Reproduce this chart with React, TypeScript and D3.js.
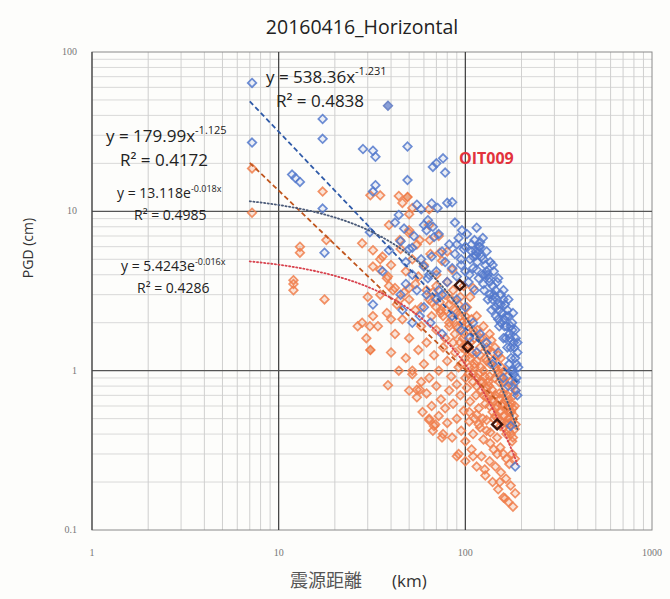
import React from "react";
import * as d3 from "d3";

const titleText = "20160416_Horizontal";
const xTickValues = [1, 10, 100, 1000];
const xTickLabels = ["1", "10", "100", "1000"];
const yTickValues = [0.1, 1, 10, 100];
const yTickLabels = ["0.1", "1", "10", "100"];

// [hypocentral distance km, PGD cm]
const bluePoints: [number, number][] = [
  [7.2, 64], [7.2, 27], [17.2, 38], [17.2, 28.5], [28.3, 24.6], [32, 24], [33, 22], [11.8, 17], [13, 15.3], [12.3, 16.2],
  [49, 25.5], [67, 19], [76, 21.5], [78, 17.5], [70, 20], [33, 14.6], [32, 13.3], [17.2, 10.4], [17.6, 5.5], [30.8, 7.4],
  [39, 5.7], [42, 8.5], [32, 2.6], [52, 2.0], [57, 2.2], [85, 11.4], [66, 11.2], [71, 10.5], [63, 8.8], [67, 8.0],
  [115, 7.9], [124, 6.8], [120, 6.0], [52, 5.9], [80, 11.3], [68, 6.9], [49, 15.7], [55, 11], [58, 10.3], [60, 8.2],
  [62, 7.6], [50, 5.8], [88, 8.5], [112, 6.6], [118, 6.0], [114, 5.3], [45, 6.5], [48, 4.8], [36, 4.2], [58, 5.0],
  [64, 4.0], [46, 2.4], [62, 3.0], [75, 3.0], [44, 9.5], [53, 7.0], [47, 7.8], [72, 7.2], [90, 6.2], [96, 7.6],
  [60, 4.5], [63, 3.8], [66, 5.2], [70, 4.2], [72, 3.2], [75, 5.6], [78, 4.8], [80, 3.6], [82, 6.2], [85, 4.4],
  [88, 5.4], [90, 3.9], [92, 6.8], [95, 4.6], [98, 5.8], [100, 4.2], [102, 7.2], [104, 3.6], [106, 5.0], [108, 6.2],
  [110, 4.4], [112, 3.2], [114, 5.6], [116, 4.8], [118, 3.8], [120, 6.4], [122, 5.2], [124, 4.0], [126, 3.2], [128, 4.6],
  [130, 5.6], [132, 2.8], [134, 3.8], [136, 4.8], [138, 2.4], [140, 3.4], [142, 4.2], [144, 2.9], [146, 2.2], [148, 3.6],
  [150, 2.6], [152, 1.9], [155, 3.0], [158, 2.3], [160, 1.6], [163, 2.6], [166, 1.9], [168, 1.4], [170, 2.2], [173, 1.6],
  [176, 1.2], [178, 1.8], [180, 1.0], [183, 1.4], [185, 0.85], [188, 1.1], [190, 0.7], [185, 0.25], [175, 0.45], [85, 2.2],
  [90, 2.8], [95, 1.8], [100, 2.5], [105, 1.6], [110, 2.0], [115, 1.3], [120, 1.7], [130, 1.5], [140, 1.1], [150, 1.3],
  [160, 0.9], [170, 0.8], [60, 2.5], [65, 2.0], [70, 2.8], [75, 1.7], [48, 3.5], [52, 4.0], [45, 3.0], [55, 3.2],
  [105, 4.0], [110, 5.2], [125, 3.5], [135, 3.0], [145, 2.5], [155, 2.0], [165, 1.6], [175, 1.4], [185, 1.2], [95, 5.0],
  [100, 6.0], [115, 4.3], [128, 4.0], [140, 2.8], [150, 2.1], [162, 1.9], [172, 1.1], [182, 0.95], [160, 2.8], [168, 2.4],
  [178, 2.0], [186, 1.6], [190, 1.3],
  [130, 4.2], [135, 3.6], [140, 4.6], [145, 3.2], [150, 3.8], [155, 2.6], [160, 3.2], [165, 2.2], [170, 2.8], [175, 1.9],
  [180, 2.3], [185, 1.8], [190, 1.5], [188, 0.9], [192, 1.05], [125, 5.0], [118, 5.6], [108, 5.6], [132, 4.0], [142, 3.0],
  [152, 2.4], [162, 2.1], [172, 1.7], [182, 1.5], [176, 1.0], [186, 0.75],
];
const blueFilled: [number, number][] = [[38.5, 46]];

const orangePoints: [number, number][] = [
  [7.2, 18.6], [7.2, 9.8], [17.2, 13.3], [31, 12.6], [35, 12.6], [44, 12.5], [46, 11.3], [52, 10.5], [18, 6.6], [13, 6.0],
  [13, 5.5], [12, 3.7], [12, 3.5], [12, 3.2], [17.6, 2.8], [26.5, 1.9], [28, 2.0], [32, 2.2], [40, 2.1], [32, 5.7],
  [32, 4.5], [35, 4.3], [38.5, 3.9], [30, 2.9], [44.6, 2.8], [50, 3.3], [41, 3.2], [30.8, 1.9], [29.5, 1.6], [38.5, 0.81],
  [50, 7.6], [39, 8.2], [44.6, 6.6], [57, 6.6], [64, 8.2], [28, 6.3], [35, 5.0], [50, 9.6], [64, 10.3], [72, 7.0],
  [80, 5.6], [50, 7.3], [64.5, 6.6], [73, 5.5],
  [36, 5.2], [40, 4.6], [45, 5.8], [48, 4.2], [52, 5.0], [56, 3.9], [60, 4.6], [65, 5.4], [70, 4.0], [75, 4.9],
  [80, 3.6], [85, 4.3], [38, 3.8], [42, 3.3], [55, 6.2],
  [35, 3.0], [39, 3.4], [43, 2.6], [47, 3.1], [50, 2.8], [54, 3.5], [58, 2.5], [62, 3.2], [66, 2.7], [70, 3.4],
  [74, 2.4], [78, 3.0], [82, 2.6], [86, 3.2], [90, 2.3], [94, 2.9], [98, 3.4], [102, 2.5], [106, 2.9], [110, 3.3],
  [34, 1.9], [38, 2.3], [42, 1.7], [46, 2.1], [50, 1.6], [54, 2.4], [58, 1.9], [62, 1.5], [66, 2.2], [70, 1.8],
  [74, 2.3], [78, 1.6], [82, 2.0], [86, 1.5], [90, 1.9], [94, 2.2], [98, 1.7], [102, 2.0], [106, 1.5], [110, 1.8],
  [115, 2.2], [120, 1.6], [125, 1.9], [130, 1.4], [135, 1.7],
  [40, 1.3], [44, 1.0], [48, 1.2], [52, 0.95], [56, 1.35], [60, 1.1], [64, 0.9], [68, 1.25], [72, 1.0], [76, 1.4],
  [80, 1.15], [84, 0.92], [88, 1.3], [92, 1.05], [96, 1.4], [100, 1.2], [104, 0.95], [108, 1.3], [112, 1.1], [116, 0.9],
  [120, 1.25], [125, 1.0], [130, 1.15], [135, 0.92], [140, 1.3], [145, 1.05], [150, 0.95], [155, 1.2], [160, 0.85],
  [50, 0.75], [55, 0.68], [58, 0.85], [62, 0.72], [66, 0.6], [70, 0.8], [74, 0.66], [78, 0.58], [82, 0.75], [86, 0.62],
  [90, 0.82], [94, 0.7], [98, 0.56], [102, 0.78], [106, 0.64], [110, 0.85], [114, 0.7], [118, 0.58], [122, 0.75], [128, 0.62],
  [134, 0.8], [140, 0.66], [146, 0.58], [152, 0.72], [158, 0.6], [164, 0.78], [170, 0.65], [176, 0.55], [182, 0.7],
  [64, 0.5], [68, 0.45], [72, 0.52], [76, 0.4], [80, 0.47], [85, 0.38], [90, 0.5], [95, 0.42], [100, 0.36], [105, 0.48],
  [110, 0.4], [115, 0.53], [120, 0.44], [125, 0.37], [130, 0.49], [136, 0.41], [142, 0.5], [148, 0.38], [154, 0.45], [160, 0.52],
  [166, 0.4], [172, 0.47], [178, 0.36], [184, 0.43],
  [92, 0.3], [100, 0.27], [108, 0.32], [115, 0.25], [122, 0.29], [128, 0.22], [135, 0.27], [140, 0.2], [145, 0.25], [150, 0.18],
  [155, 0.23], [160, 0.16], [165, 0.21], [170, 0.15], [175, 0.19], [180, 0.14], [185, 0.17], [163, 0.158], [153, 0.2], [127, 0.24],
  [110, 0.29], [90, 0.29], [75, 0.38], [69, 0.46], [59, 0.55], [57, 0.76], [52, 1.0], [55, 0.76], [64, 0.49], [67, 0.42],
  [64, 2.8], [70, 2.5], [76, 2.2], [82, 1.9], [88, 1.7], [94, 1.5], [100, 1.35], [106, 1.2], [112, 1.05], [118, 0.95],
  [124, 0.85], [130, 0.78], [136, 0.7], [142, 0.64], [148, 0.6], [155, 0.56], [162, 0.52], [170, 0.5], [178, 0.48], [186, 0.46],
  [67, 3.1], [73, 2.7], [79, 2.4], [85, 2.1], [91, 1.85], [97, 1.6], [103, 1.45], [109, 1.3], [115, 1.15], [121, 1.05],
  [127, 0.92], [133, 0.85], [139, 0.76], [145, 0.7], [152, 0.66], [159, 0.62], [166, 0.58], [174, 0.55], [182, 0.52],
  [84, 2.8], [88, 2.4], [92, 2.6], [96, 2.0], [100, 2.2], [104, 1.8], [108, 2.1], [112, 1.6], [116, 1.8], [120, 1.4],
  [124, 1.6], [128, 1.2], [132, 1.35], [136, 1.1], [140, 1.15], [144, 0.9], [148, 1.0], [152, 0.85], [156, 0.9], [160, 0.72],
  [164, 0.65], [168, 0.7], [172, 0.6], [176, 0.62], [180, 0.58], [184, 0.6],
  [95, 1.1], [100, 0.9], [105, 1.05], [110, 0.95], [115, 0.8], [120, 0.85], [125, 0.7], [130, 0.68], [135, 0.6], [140, 0.55],
  [145, 0.52], [150, 0.5], [155, 0.48], [160, 0.44], [165, 0.47], [170, 0.42], [175, 0.4], [180, 0.38],
  [105, 0.55], [112, 0.5], [118, 0.46], [124, 0.5], [130, 0.42], [136, 0.35], [142, 0.32], [148, 0.3], [154, 0.33], [160, 0.3],
  [166, 0.28], [172, 0.26], [178, 0.3], [184, 0.28],
  [138, 1.55], [144, 1.4], [150, 1.25], [156, 1.05], [162, 1.0], [168, 0.92], [174, 0.85], [180, 0.8], [186, 0.75],
];
const orangeFilled: [number, number][] = [[49, 12.3], [31, 1.35]];

// OIT009 station
const stationPoints: [number, number][] = [[93.5, 3.44], [103, 1.41], [148, 0.46]];

// trend lines: y = a·x^b and y = a·e^(k·x)
const powerCoef = [538.36, 179.99];
const powerExp = [-1.231, -1.125];
const powerR2 = ["0.4838", "0.4172"];
const expCoef = [13.118, 5.4243];
const expRate = [-0.018, -0.016];
const expR2 = ["0.4985", "0.4286"];

const BLUE = "#5479cc";
const ORANGE = "#f07f4c";

const left = 92, right = 652, top = 52, bottom = 530;

export default function App() {
  const x = d3.scaleLog().domain([1, 1000]).range([left, right]);
  const y = d3.scaleLog().domain([0.1, 100]).range([bottom, top]);

  const minorX: number[] = [];
  [1, 10, 100].forEach((dec) => d3.range(2, 10).forEach((m) => minorX.push(dec * m)));
  const minorY: number[] = [];
  [0.1, 1, 10].forEach((dec) => d3.range(2, 10).forEach((m) => minorY.push(dec * m)));

  const r = 4.3;
  const diamond = (cx: number, cy: number, s = r) =>
    `M${cx},${cy - s}L${cx + s},${cy}L${cx},${cy + s}L${cx - s},${cy}Z`;

  const xs = d3.range(0, 81).map((i) => 7 * Math.pow(190 / 7, i / 80));
  const line = d3
    .line<[number, number]>()
    .x((d) => x(d[0]))
    .y((d) => y(d[1]));
  const powerPath = (i: number) =>
    line(xs.map((v) => [v, powerCoef[i] * Math.pow(v, powerExp[i])] as [number, number])) || "";
  const expPath = (i: number) =>
    line(xs.map((v) => [v, expCoef[i] * Math.exp(expRate[i] * v)] as [number, number])) || "";

  const eqFont = "'Open Sans', 'Liberation Sans', sans-serif";

  return (
    <div style={{ position: "absolute", left: 0, top: 0 }}>
      <svg width={670} height={599} viewBox="0 0 670 599" style={{ display: "block" }}>
        <rect x={0} y={0} width={670} height={599} fill="#fdfdfb" />
        {/* minor grid */}
        {minorX.map((v) => (
          <line key={"mx" + v} x1={x(v)} x2={x(v)} y1={top} y2={bottom} stroke="#c4c4c4" strokeWidth={0.8} />
        ))}
        {minorY.map((v) => (
          <line key={"my" + v} x1={left} x2={right} y1={y(v)} y2={y(v)} stroke="#cfcfcf" strokeWidth={0.8} />
        ))}
        {/* frame */}
        <rect x={left} y={top} width={right - left} height={bottom - top} fill="none" stroke="#8a8a8a" strokeWidth={1} />
        {/* major grid */}
        {[10, 100].map((v) => (
          <line key={"MX" + v} x1={x(v)} x2={x(v)} y1={top} y2={bottom} stroke="#3a3a3a" strokeWidth={1.2} />
        ))}
        {[1, 10].map((v) => (
          <line key={"MY" + v} x1={left} x2={right} y1={y(v)} y2={y(v)} stroke="#555" strokeWidth={1.2} />
        ))}
        <line x1={left} x2={left} y1={top} y2={bottom} stroke="#444" strokeWidth={1.2} />

        {/* tick labels */}
        {xTickValues.map((v, i) => (
          <text key={"xt" + v} x={x(v)} y={556} textAnchor="middle" fontFamily="'Liberation Serif', serif" fontSize={10} fill="#777">
            {xTickLabels[i]}
          </text>
        ))}
        {yTickValues.map((v, i) => (
          <text key={"yt" + v} x={77} y={y(v) + 3} textAnchor="end" fontFamily="'Liberation Serif', serif" fontSize={10} fill="#777">
            {yTickLabels[i]}
          </text>
        ))}

        {/* scatter */}
        <g>
          {orangePoints.map((d, i) => (
            <path key={"o" + i} d={diamond(x(d[0]), y(d[1]))} fill={ORANGE} fillOpacity={0.2} stroke={ORANGE} strokeOpacity={0.85} strokeWidth={1.7} />
          ))}
          {orangeFilled.map((d, i) => (
            <path key={"of" + i} d={diamond(x(d[0]), y(d[1]))} fill="#e8956a" fillOpacity={0.8} stroke={ORANGE} strokeWidth={1.7} />
          ))}
          {bluePoints.map((d, i) => (
            <path key={"b" + i} d={diamond(x(d[0]), y(d[1]))} fill={BLUE} fillOpacity={0.1} stroke={BLUE} strokeOpacity={0.85} strokeWidth={1.7} />
          ))}
          {blueFilled.map((d, i) => (
            <path key={"bf" + i} d={diamond(x(d[0]), y(d[1]))} fill="#8aa0d8" stroke="#7088c8" strokeWidth={1.7} />
          ))}
        </g>

        {/* trend lines */}
        <path d={powerPath(0)} fill="none" stroke="#2f5aa8" strokeWidth={1.8} strokeDasharray="5,3" />
        <path d={powerPath(1)} fill="none" stroke="#c0561e" strokeWidth={1.8} strokeDasharray="5,3" />
        <path d={expPath(0)} fill="none" stroke="#4a5a78" strokeWidth={1.8} strokeDasharray="1.2,2.4" strokeLinecap="round" />
        <path d={expPath(1)} fill="none" stroke="#d8434e" strokeWidth={1.8} strokeDasharray="1.2,2.4" strokeLinecap="round" />

        {/* OIT009 */}
        {stationPoints.map((d, i) => (
          <path key={"s" + i} d={diamond(x(d[0]), y(d[1]), 5)} fill="none" stroke="#3b140c" strokeWidth={2.4} />
        ))}
        <text x={459} y={164} fontFamily={eqFont} fontSize={16} fontWeight={700} fill="#e2323c">OIT009</text>

        {/* trend equations */}
        <g fontFamily={eqFont} fill="#222">
          <text x={266} y={83} fontSize={17}>
            y = {powerCoef[0].toFixed(2)}x<tspan dy={-8} fontSize={11}>{powerExp[0]}</tspan>
          </text>
          <text x={276} y={107} fontSize={17}>R² = {powerR2[0]}</text>
          <text x={106} y={142} fontSize={17}>
            y = {powerCoef[1].toFixed(2)}x<tspan dy={-8} fontSize={11}>{powerExp[1]}</tspan>
          </text>
          <text x={120} y={166} fontSize={17}>R² = {powerR2[1]}</text>
          <text x={117} y={198} fontSize={14}>
            y = {expCoef[0]}e<tspan dy={-6} fontSize={9}>{expRate[0]}x</tspan>
          </text>
          <text x={134} y={220} fontSize={14}>R² = {expR2[0]}</text>
          <text x={121} y={271} fontSize={14}>
            y = {expCoef[1]}e<tspan dy={-6} fontSize={9}>{expRate[1]}x</tspan>
          </text>
          <text x={137} y={293} fontSize={14}>R² = {expR2[1]}</text>
        </g>

        {/* titles */}
        <text x={362} y={34} textAnchor="middle" fontFamily={eqFont} fontSize={19.5} fill="#222">{titleText}</text>
        <text transform="translate(33,248) rotate(-90)" textAnchor="middle" fontFamily={eqFont} fontSize={14} fill="#333">PGD (cm)</text>
        <text x={290} y={587} fontFamily="'Noto Sans CJK JP', sans-serif" fontSize={18} fill="#555">
          震源距離<tspan dx={30} fill="#333" fontFamily={eqFont} fontSize={17}>(km)</tspan>
        </text>
      </svg>
    </div>
  );
}
